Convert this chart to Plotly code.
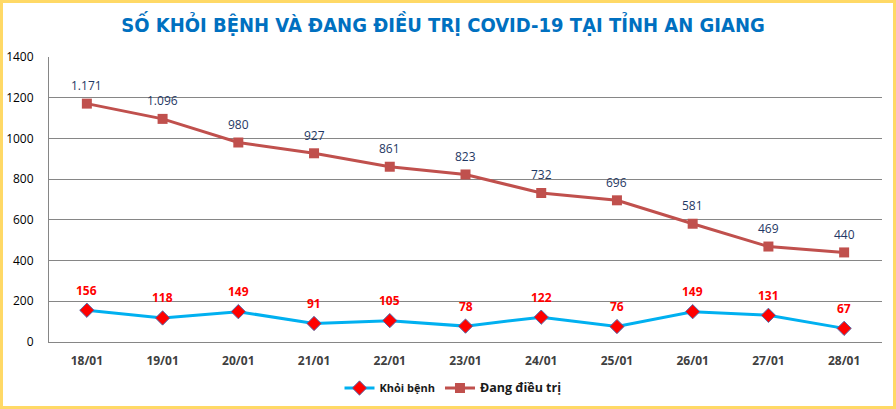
import plotly.graph_objects as go

dates = ["18/01", "19/01", "20/01", "21/01", "22/01", "23/01", "24/01", "25/01", "26/01", "27/01", "28/01"]
khoi_benh = [156, 118, 149, 91, 105, 78, 122, 76, 149, 131, 67]
dang_dieu_tri = [1171, 1096, 980, 927, 861, 823, 732, 696, 581, 469, 440]
y_ticks = [0, 200, 400, 600, 800, 1000, 1200, 1400]

FONT = "Open Sans"
W, H = 896, 409
ML, MR, MT, MB = 49, 14, 57, 67
PW, PH = W - ML - MR, H - MT - MB

fig = go.Figure()
fig.add_trace(go.Scatter(
    x=dates, y=khoi_benh, name="<b>Khỏi bệnh</b>", mode="lines+markers",
    line=dict(color="#00B0F0", width=3),
    marker=dict(symbol="diamond", size=11, color="#FF0000", line=dict(color="#4F6FAF", width=1)),
))
fig.add_trace(go.Scatter(
    x=dates, y=dang_dieu_tri, name="<b><span style='font-size:12.5px'>Đang điều trị</span></b>",
    mode="lines+markers",
    line=dict(color="#C0504D", width=3),
    marker=dict(symbol="square", size=10, color="#C0504D"),
))

annotations = []
for d, v in zip(dates, khoi_benh):
    annotations.append(dict(x=d, y=v, text="<b>%d</b>" % v, showarrow=False, yshift=20,
                            font=dict(color="#FF0000", size=12, family=FONT)))
for d, v in zip(dates, dang_dieu_tri):
    txt = "{:,}".format(v).replace(",", ".")
    annotations.append(dict(x=d, y=v, text=txt, showarrow=False, yshift=18,
                            font=dict(color="#1F3864", size=12, family=FONT)))

fig.update_layout(
    width=W, height=H,
    template="none",
    paper_bgcolor="white", plot_bgcolor="white",
    margin=dict(l=ML, r=MR, t=MT, b=MB, autoexpand=False),
    title=dict(text="<b>SỐ KHỎI BỆNH VÀ ĐANG ĐIỀU TRỊ COVID-19 TẠI TỈNH AN GIANG</b>",
               x=443 / W, xanchor="center", y=1 - 25 / H, yanchor="middle",
               font=dict(family="DejaVu Sans Condensed, Roboto", size=20, color="#0070C0")),
    font=dict(family=FONT, color="#000000"),
    showlegend=True,
    legend=dict(orientation="h", x=0.485, xanchor="center", y=-46 / PH, yanchor="middle",
                font=dict(size=11, color="#1a1a1a", family=FONT), itemwidth=30),
    annotations=annotations,
    shapes=[dict(type="rect", xref="paper", yref="paper",
                 x0=-(ML - 1.5) / PW, x1=1 + (MR - 1.5) / PW,
                 y0=-(MB - 1.5) / PH, y1=1 + (MT - 1.5) / PH,
                 line=dict(color="#FFD966", width=3), layer="above")],
)
fig.update_xaxes(type="category", range=[-0.5, 10.5], showgrid=False, automargin=False,
                 showline=True, linecolor="#868686", linewidth=1, ticks="",
                 tickfont=dict(size=12, color="#404040", family=FONT),
                 tickprefix="<b>", ticksuffix="</b>", ticklabelstandoff=8)
fig.update_yaxes(range=[0, 1400], tickvals=y_ticks, showgrid=True, gridcolor="#868686", gridwidth=1,
                 showline=True, linecolor="#868686", linewidth=1, zeroline=False, automargin=False,
                 ticks="", tickfont=dict(size=12, color="#000000", family=FONT), ticklabelstandoff=12)

fig.write_html("out.html", config={"displayModeBar": False},
               post_script="document.body.style.margin='0';")
